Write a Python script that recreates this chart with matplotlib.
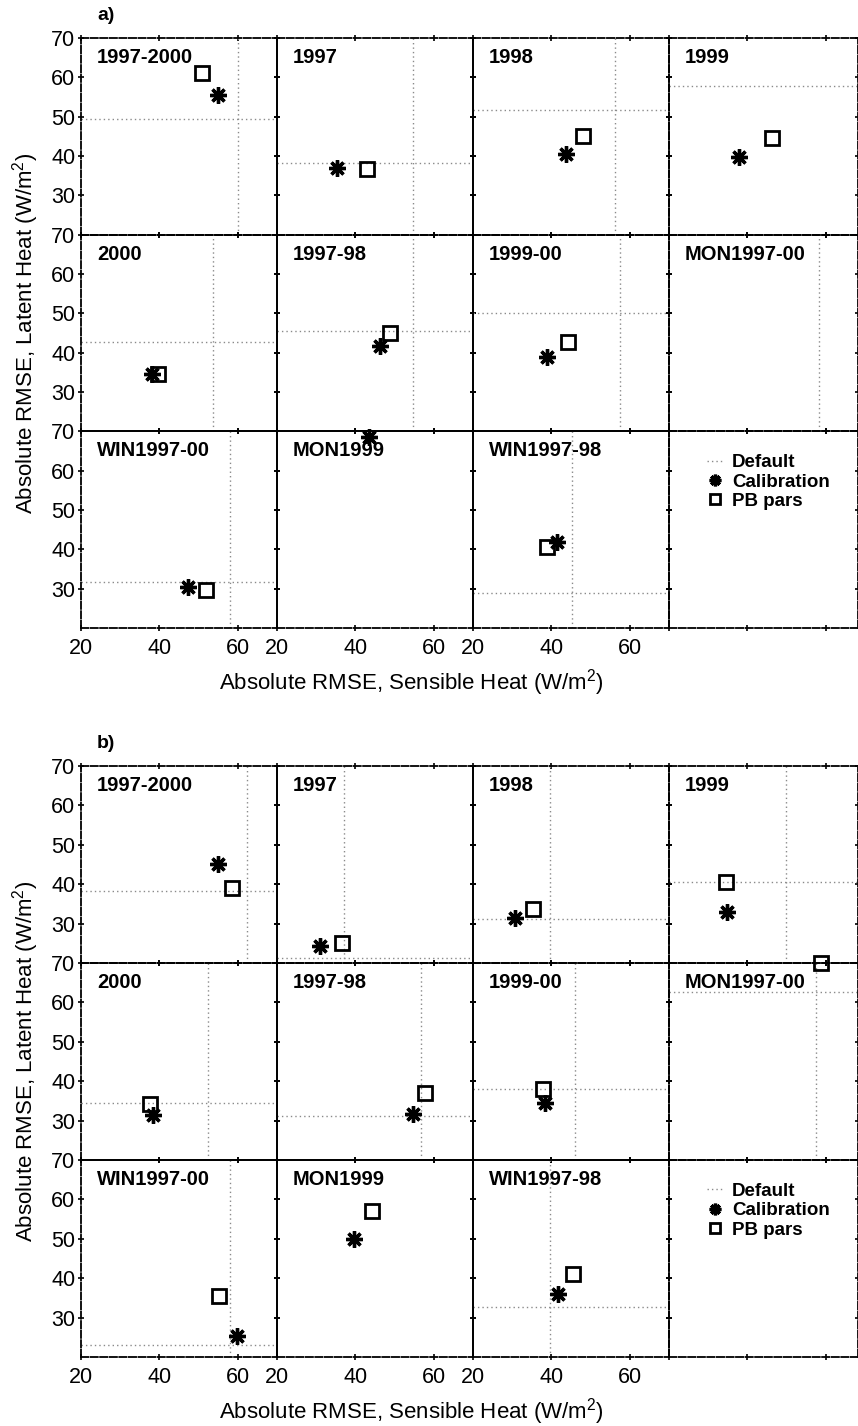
#!/usr/bin/env python3
import numpy as np
import matplotlib
matplotlib.use("Agg")
import matplotlib.pyplot as plt
from matplotlib.lines import Line2D
from matplotlib.transforms import ScaledTranslation

plt.rcParams["font.family"] = ["Liberation Sans", "DejaVu Sans"]
plt.rcParams["mathtext.fontset"] = "custom"
plt.rcParams["mathtext.rm"] = "Liberation Sans"

nan = np.nan

CELLS = ["1997-2000", "1997", "1998", "1999",
         "2000", "1997-98", "1999-00", "MON1997-00",
         "WIN1997-00", "MON1999", "WIN1997-98"]

# panel a) values (W/m2)
a_default_x = [60.0, 54.7, 56.2, nan, 53.7, 54.7, 57.5, 58.3, 58.0, nan, 45.3]
a_default_y = [49.4, 38.3, 51.7, 57.8, 42.6, 45.6, 50.0, nan, 31.7, nan, 29.0]
a_calib_x = [55.0, 35.3, 43.7, 37.9, 38.1, 46.3, 38.9, nan, 47.3, 43.5, 41.4]
a_calib_y = [55.5, 37.0, 40.6, 39.8, 34.5, 41.6, 38.8, nan, 30.4, 68.5, 41.8]
a_pb_x = [50.9, 43.0, 48.0, 46.3, 39.6, 48.8, 44.2, nan, 51.9, nan, 38.9]
a_pb_y = [61.1, 36.7, 45.0, 44.6, 34.5, 44.9, 42.8, nan, 29.6, nan, 40.6]

# panel b)
b_default_x = [62.3, 37.2, 39.6, 49.8, 52.4, 56.7, 46.0, 57.5, 58.0, nan, 39.6]
b_default_y = [38.3, 21.3, 31.2, 40.6, 34.5, 31.2, 38.0, 62.6, 23.0, nan, 32.7]
b_calib_x = [55.0, 31.0, 30.7, 34.8, 38.4, 54.7, 38.4, nan, 59.8, 39.7, 41.7]
b_calib_y = [45.1, 24.3, 31.4, 33.0, 31.4, 31.6, 34.5, nan, 25.3, 50.0, 36.0]
b_pb_x = [58.5, 36.5, 35.3, 34.5, 37.6, 57.8, 37.9, 58.8, 55.2, 44.2, 45.5]
b_pb_y = [39.0, 25.1, 33.7, 40.6, 34.2, 37.0, 38.0, 70.0, 35.5, 57.1, 41.1]

X_TICKS = [20, 40, 60]
Y_TICKS = [30, 40, 50, 60, 70]

W, H = 858, 1426
COL_LEFT = [81, 277, 473, 669]
COL_W = [196, 196, 196, 189]

DASHED = (0, (4, 1.3))
DEFAULT_STYLE = dict(color="#8a8a8a", linestyle=(0, (1, 2.2)), linewidth=1.0)
CALIB_STYLE = dict(marker=(8, 2, 0), markersize=12, markeredgewidth=2.4,
                   color="black", linestyle="none")
PB_STYLE = dict(marker="s", markersize=10, markeredgewidth=2.0,
                markerfacecolor="none", markeredgecolor="black", linestyle="none")

fig = plt.figure(figsize=(W / 100, H / 100), dpi=100)


def add_cell(left, top, width, height):
    return fig.add_axes([left / W, 1 - (top + height) / H, width / W, height / H])


def style_cell(ax, r, c):
    for side in ["left", "right", "top", "bottom"]:
        ax.spines[side].set_linestyle(DASHED)
        ax.spines[side].set_linewidth(1.3)
    if c in (0, 1):
        ax.spines["right"].set_linestyle("solid")
    if c in (1, 2):
        ax.spines["left"].set_linestyle("solid")
    if r == 2 and c < 3:
        ax.spines["top"].set_linestyle("solid")
    if r == 1 and c < 3:
        ax.spines["bottom"].set_linestyle("solid")
    ax.patch.set_alpha(0)
    ax.set_xlim(20, 20 + 50 * COL_W[c] / 196)
    ax.set_ylim(20, 70)
    ax.set_xticks(X_TICKS)
    ax.set_yticks(Y_TICKS)
    ax.tick_params(direction="inout", length=4, width=1.2, top=True, right=True,
                   labelsize=15.5)
    ax.tick_params(axis="y", pad=2)
    ax.tick_params(axis="x", pad=5)
    if c != 0:
        ax.set_yticklabels([])
    if r != 2 or c == 3:
        ax.set_xticklabels([])


def draw_panel(top, row_h, letter, dx, dy, cx, cy, px_, py_, xlabel_y):
    axes = []
    for r in range(3):
        for c in range(4):
            ax = add_cell(COL_LEFT[c], top + r * row_h, COL_W[c], row_h)
            style_cell(ax, r, c)
            axes.append(ax)

    for i, name in enumerate(CELLS):
        ax = axes[i]
        if not np.isnan(dy[i]):
            ax.axhline(dy[i], **DEFAULT_STYLE)
        if not np.isnan(dx[i]):
            ax.axvline(dx[i], **DEFAULT_STYLE)
        ax.plot([cx[i]], [cy[i]], clip_on=False, **CALIB_STYLE)
        ax.plot([px_[i]], [py_[i]], clip_on=False, **PB_STYLE)
        off = ScaledTranslation(16 / 100, -25 / 100, fig.dpi_scale_trans)
        ax.text(0, 1, name, transform=ax.transAxes + off, fontsize=14.5,
                fontweight="bold", ha="left", va="baseline")

    leg_ax = axes[11]
    handles = [Line2D([], [], **DEFAULT_STYLE),
               Line2D([], [], **CALIB_STYLE),
               Line2D([], [], **PB_STYLE)]
    leg_ax.legend(handles, ["Default", "Calibration", "PB pars"],
                  loc="upper left", bbox_to_anchor=(0.20, 0.885),
                  frameon=False, markerscale=0.7,
                  prop={"size": 13.5, "weight": "bold"},
                  handlelength=0.85, handletextpad=0.5, labelspacing=0.12,
                  borderpad=0, borderaxespad=0)

    fig.text(97 / W, 1 - (top - 22) / H, letter, fontsize=14, fontweight="bold",
             ha="left", va="center")
    mid = top + 1.5 * row_h
    fig.text(26 / W, 1 - mid / H, "Absolute RMSE, Latent Heat (W/m$^2$)",
             rotation=90, fontsize=16, ha="center", va="center")
    fig.text(411 / W, 1 - xlabel_y / H, "Absolute RMSE, Sensible Heat (W/m$^2$)",
             fontsize=16, ha="center", va="center")


draw_panel(38, 196.7, "a)", a_default_x, a_default_y, a_calib_x, a_calib_y,
           a_pb_x, a_pb_y, 683)
draw_panel(766, 197.0, "b)", b_default_x, b_default_y, b_calib_x, b_calib_y,
           b_pb_x, b_pb_y, 1412)

fig.savefig("out.png", dpi=100)
